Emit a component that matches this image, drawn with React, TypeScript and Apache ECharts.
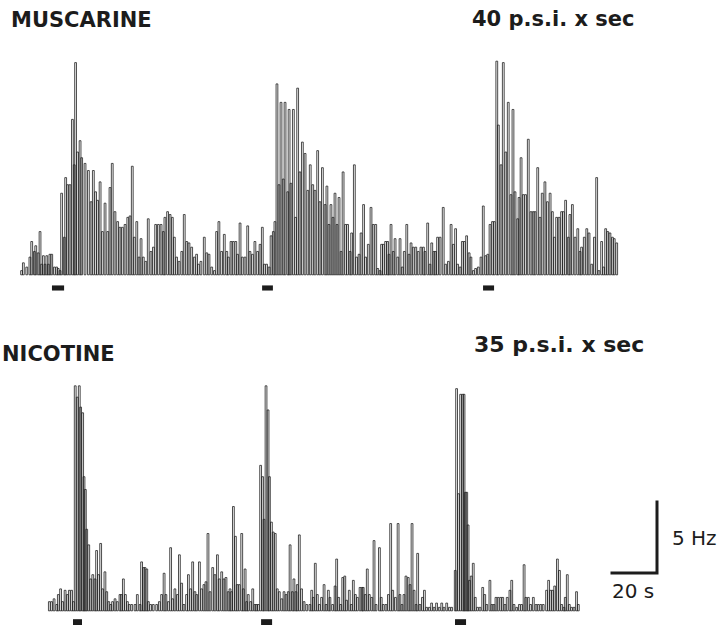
import React, { useEffect, useRef } from "react";
import * as echarts from "echarts";

// Ratemeter spikes: [time (s), instantaneous rate (Hz)]
const muscarineSpikes: [number, number][] = [
  [0.7,0.35],[1.5,0.9],[3.0,0.6],[4.4,1.3],[5.2,2.4],[6.4,1.7],[7.0,2.1],[8.1,1.6],[8.9,3.1],[9.6,0.8],
  [10.4,1.4],[11.1,0.8],[11.9,1.4],[12.6,0.8],[13.3,1.5],[14.1,1.5],[15.3,0.6],[16.3,0.6],[17.0,0.5],[17.8,0.35],
  [18.5,5.8],[19.7,2.7],[20.3,6.9],[21.2,6.4],[22.2,6.4],[23.3,11.0],[24.1,7.8],[24.7,15.0],[25.6,8.7],[26.7,9.5],
  [27.4,8.3],[28.9,7.9],[30.4,7.4],[31.6,5.2],[32.6,7.4],[33.6,5.9],[34.5,5.3],[35.6,6.6],[36.6,3.1],[37.8,5.1],
  [39.0,3.1],[40.0,6.2],[41.0,7.9],[42.2,4.5],[43.4,3.8],[44.4,3.4],[45.5,3.4],[46.7,3.6],[47.9,4.1],[48.9,4.2],
  [49.9,7.7],[50.8,2.7],[51.9,3.8],[52.9,1.3],[53.8,2.6],[54.8,1.3],[55.9,1.0],[57.0,4.0],[58.2,1.7],[59.3,2.0],
  [60.3,3.6],[61.5,3.6],[62.7,3.6],[63.7,3.1],[64.4,4.1],[65.6,4.5],[66.7,4.3],[67.7,4.1],[68.6,2.7],[69.6,1.3],
  [70.7,1.0],[71.9,1.7],[73.0,4.3],[74.1,2.4],[75.1,2.3],[76.3,2.0],[77.5,1.3],[78.5,1.5],[79.3,0.8],[80.4,1.0],
  [81.9,2.7],[83.0,1.6],[84.0,1.5],[85.2,0.6],[86.4,0.35],[87.4,3.1],[88.4,3.8],[89.6,1.7],[90.8,2.9],[91.9,1.7],
  [92.6,1.3],[93.8,2.4],[94.8,2.4],[95.9,2.4],[96.7,1.5],[97.8,3.7],[98.8,1.3],[100.0,1.3],[101.2,3.5],[102.2,1.7],
  [103.3,1.5],[104.4,2.4],[105.6,1.7],[106.7,2.2],[107.7,3.4],[108.6,0.8],[109.6,0.8],[110.7,0.6],[111.6,2.8],[112.6,3.1],
  [113.3,3.8],[114.2,13.5],[115.1,6.4],[116.0,12.2],[117.0,6.8],[117.8,12.2],[119.0,5.9],[119.6,11.7],[120.4,6.5],[121.5,11.7],
  [122.5,4.1],[123.4,13.2],[124.4,7.3],[125.5,9.4],[126.7,8.6],[127.9,6.0],[129.0,7.8],[130.1,6.4],[131.1,6.0],[132.3,8.8],
  [133.3,5.2],[134.4,7.6],[135.6,5.0],[136.4,6.3],[137.3,3.6],[138.2,5.0],[139.1,4.1],[140.0,5.8],[140.9,3.6],[141.8,5.5],
  [142.7,1.7],[143.6,7.3],[144.7,3.6],[145.6,3.6],[146.7,1.7],[147.4,3.0],[148.6,7.8],[149.6,1.3],[150.7,1.5],[151.6,3.0],
  [152.7,5.0],[153.6,1.3],[154.8,2.2],[156.0,4.8],[157.0,3.6],[158.1,3.6],[159.0,0.5],[160.0,0.35],[160.7,2.2],[161.5,2.2],
  [162.5,2.4],[163.4,2.4],[164.0,1.5],[164.9,3.6],[165.9,1.7],[166.7,2.6],[167.9,1.3],[168.9,2.6],[169.9,0.6],[170.8,1.7],
  [171.9,3.6],[172.9,1.5],[173.8,2.3],[174.8,2.0],[175.9,2.0],[177.0,1.7],[178.2,2.0],[179.3,2.0],[180.0,1.7],[181.2,3.7],
  [182.2,0.8],[183.0,2.3],[184.0,1.7],[184.7,1.7],[185.6,2.7],[186.7,2.7],[188.1,4.8],[189.2,0.8],[190.4,1.0],[191.6,3.6],
  [192.6,2.2],[193.6,3.3],[194.5,0.8],[195.6,0.6],[196.6,2.4],[197.5,2.4],[198.5,2.8],[199.6,1.6],[200.4,1.3],[201.5,0.35],
  [202.5,0.5],[203.7,0.6],[204.9,1.3],[205.9,4.9],[207.0,1.4],[207.9,1.5],[208.9,3.6],[210.0,3.8],[210.8,3.8],[211.9,15.1],
  [212.6,10.6],[213.8,7.8],[214.8,15.0],[215.9,8.7],[217.0,12.2],[218.2,5.7],[219.1,11.7],[220.0,5.9],[221.2,4.0],[221.8,5.5],
  [222.7,8.3],[223.7,5.7],[224.7,5.7],[225.9,9.6],[227.1,4.5],[228.1,4.5],[228.9,4.5],[230.1,7.6],[231.1,4.1],[232.1,5.8],
  [233.3,6.6],[234.4,5.2],[235.6,5.8],[236.6,4.5],[237.5,2.7],[238.5,4.1],[239.6,4.1],[240.7,4.5],[241.5,4.5],[242.5,5.3],
  [243.7,2.7],[244.4,4.3],[245.5,5.0],[246.7,2.7],[247.9,3.3],[248.9,1.7],[249.6,2.0],[250.8,2.7],[251.9,3.3],[252.9,3.0],
  [254.1,0.8],[255.3,2.7],[256.3,6.9],[257.3,0.35],[258.5,2.4],[259.4,0.6],[260.3,3.3],[261.2,3.1],[262.2,3.0],[263.3,2.7],
  [264.1,2.6],[265.2,2.3],
];

const nicotineSpikes: [number, number][] = [
  [0.6,0.7],[1.6,0.7],[2.7,0.9],[3.9,0.5],[4.6,1.2],[5.6,1.6],[6.5,0.7],[7.6,1.5],[8.6,1.2],[9.5,1.5],
  [10.5,1.5],[11.3,0.7],[12.1,15.9],[13.0,15.1],[13.9,15.9],[14.5,14.4],[15.4,14.0],[16.0,9.5],[16.6,8.6],[17.2,5.8],
  [18.1,4.7],[19.0,2.3],[19.9,2.6],[20.9,2.3],[21.6,4.3],[22.5,2.6],[23.4,4.8],[24.3,1.6],[25.3,2.8],[26.1,1.4],
  [27.0,0.7],[27.9,0.5],[28.7,0.7],[29.8,0.9],[30.8,0.7],[32.0,1.2],[32.7,1.2],[33.5,2.3],[34.4,1.2],[35.3,0.7],
  [36.1,0.5],[37.2,0.5],[38.7,0.5],[39.7,1.2],[40.9,0.5],[41.6,3.5],[42.4,3.1],[43.1,3.1],[43.9,3.0],[44.6,0.7],
  [45.6,0.5],[46.8,0.5],[48.3,0.5],[49.5,0.7],[50.5,1.2],[51.6,2.7],[52.4,1.2],[53.5,0.7],[54.5,4.5],[55.4,0.9],
  [56.4,1.6],[57.5,1.2],[58.4,4.0],[59.4,2.0],[60.4,0.5],[61.6,1.2],[62.4,2.6],[63.4,1.6],[64.3,3.5],[65.3,1.4],
  [66.1,1.2],[67.3,3.5],[68.3,1.6],[69.3,1.9],[70.2,2.1],[71.1,5.5],[72.0,1.4],[73.2,3.1],[74.2,2.6],[75.3,4.0],
  [76.1,2.3],[77.2,2.8],[78.2,2.3],[79.1,2.4],[80.1,1.4],[80.9,1.6],[81.6,1.4],[82.4,7.4],[83.3,5.3],[84.1,1.9],
  [85.0,1.9],[86.1,5.5],[86.8,1.6],[87.6,3.0],[88.3,0.7],[89.0,1.2],[90.1,0.7],[91.0,1.6],[92.0,0.5],[92.7,0.5],
  [93.5,0.5],[94.5,10.3],[95.4,9.5],[96.0,6.5],[96.9,15.9],[97.8,14.2],[98.4,9.5],[99.3,6.3],[100.1,5.6],[101.0,5.5],
  [101.9,1.6],[102.8,1.4],[103.9,0.9],[104.9,1.4],[105.8,1.2],[106.8,1.4],[107.6,4.7],[108.6,1.4],[109.3,2.3],[110.2,1.4],
  [110.8,1.9],[111.7,5.4],[112.7,1.6],[113.8,0.7],[115.0,0.5],[116.4,0.5],[117.2,1.5],[117.9,1.0],[118.8,3.4],[119.7,1.2],
  [120.6,0.5],[121.6,1.0],[122.7,1.9],[123.6,0.5],[124.6,1.5],[125.3,1.0],[126.5,0.5],[127.6,1.8],[128.3,3.7],[129.2,1.0],
  [130.1,0.5],[131.0,2.4],[131.9,2.5],[132.7,0.8],[133.9,1.5],[134.8,0.5],[135.7,2.2],[136.6,1.2],[137.5,1.0],[138.7,1.7],
  [139.6,1.7],[140.1,1.7],[141.0,1.2],[141.9,3.0],[142.8,1.2],[143.9,1.0],[144.9,5.0],[145.8,0.5],[147.3,4.5],[148.1,1.0],
  [149.0,0.5],[150.2,0.5],[151.3,1.2],[152.3,6.2],[153.2,1.5],[154.4,1.0],[155.6,6.2],[156.4,1.2],[157.3,0.5],[158.2,1.2],
  [159.1,2.5],[160.1,2.4],[160.9,1.9],[161.8,6.2],[162.7,1.5],[163.6,0.5],[164.3,4.1],[165.3,0.5],[166.4,1.0],[167.3,1.5],
  [168.3,0.3],[169.5,0.3],[170.5,0.6],[171.6,0.3],[172.7,0.6],[173.9,0.3],[175.0,0.6],[176.0,0.3],[177.2,0.6],[178.4,0.3],
  [179.4,0.3],[181.0,2.9],[181.6,15.7],[182.5,8.3],[183.4,15.3],[184.3,15.3],[184.9,15.3],[185.5,8.4],[186.1,8.4],[186.7,6.1],
  [187.3,2.2],[188.1,2.5],[189.0,3.4],[189.9,1.0],[190.9,0.3],[192.0,0.3],[193.2,1.7],[194.1,1.2],[195.0,0.5],[196.4,2.2],
  [197.3,0.5],[198.2,0.5],[199.1,1.0],[200.1,1.0],[201.2,1.0],[202.1,1.0],[203.1,0.5],[204.1,1.0],[205.3,1.5],[206.1,2.2],
  [207.1,0.5],[208.3,0.3],[209.5,0.5],[210.5,0.5],[211.6,3.3],[212.4,1.0],[213.5,1.0],[214.5,0.5],[215.7,1.0],[216.9,0.5],
  [217.9,0.5],[219.0,0.5],[220.1,0.5],[221.6,1.5],[222.5,2.2],[223.4,1.5],[224.3,1.5],[225.2,1.8],[226.4,3.7],[227.3,2.9],
  [228.3,0.5],[229.3,0.3],[229.9,1.0],[230.8,2.6],[231.7,0.5],[232.7,0.3],[233.8,0.3],[234.9,1.4],[235.7,0.5],
];

// Drug application periods [start s, end s]
const muscarineStim: [number, number][] = [[14.2, 19.6], [107.6, 112.4], [205.8, 210.7]];
const nicotineStim: [number, number][] = [[11.1, 15.1], [94.7, 99.6], [180.9, 185.8]];

// Calibration bar
const scaleTime = 20; // s
const scaleRate = 5; // Hz

const labels = {
  muscarine: "MUSCARINE",
  muscarineDose: "40 p.s.i. x sec",
  nicotine: "NICOTINE",
  nicotineDose: "35 p.s.i. x sec",
  rateUnit: `${scaleRate} Hz`,
  timeUnit: `${scaleTime} s`,
};

export default function App() {
  const ref = useRef<HTMLDivElement>(null);
  useEffect(() => {
    const chart = echarts.init(ref.current!, null, { renderer: "svg" });
    const font = '"DejaVu Sans", "Liberation Sans", Arial, sans-serif';
    const ink = "#1c1c1c";
    const spikeStyle = {
      color: "rgba(30,30,30,0.07)",
      borderColor: "#222222",
      borderWidth: 0.8,
    };
    const stimArea = (stim: [number, number][], y0: number, y1: number) => ({
      silent: true,
      itemStyle: { color: ink },
      data: stim.map(([a, b]) => [{ coord: [a, y0] }, { coord: [b, y1] }]),
    });
    const option: any = {
      animation: false,
      backgroundColor: "#ffffff",
      grid: [
        { left: 20, top: 48, width: 598.5, height: 248.5 },
        { left: 48, top: 384, width: 531, height: 241 },
        { left: 612, top: 502, width: 45, height: 71 },
      ],
      xAxis: [
        { gridIndex: 0, type: "value", min: 0, max: 266, show: false },
        { gridIndex: 1, type: "value", min: 0, max: 236, show: false },
        { gridIndex: 2, type: "value", min: -scaleTime, max: 0, show: false },
      ],
      yAxis: [
        { gridIndex: 0, type: "value", min: -1.5, max: 16, show: false },
        { gridIndex: 1, type: "value", min: -0.97, max: 16, show: false },
        { gridIndex: 2, type: "value", min: 0, max: scaleRate, show: false },
      ],
      series: [
        {
          type: "bar",
          xAxisIndex: 0,
          yAxisIndex: 0,
          data: muscarineSpikes,
          barWidth: 2.6,
          clip: false,
          itemStyle: spikeStyle,
          markArea: stimArea(muscarineStim, -0.72, -1.08),
        },
        {
          type: "bar",
          xAxisIndex: 1,
          yAxisIndex: 1,
          data: nicotineSpikes,
          barWidth: 2.6,
          clip: false,
          itemStyle: spikeStyle,
          markArea: stimArea(nicotineStim, -0.56, -0.97),
        },
        {
          type: "line",
          xAxisIndex: 2,
          yAxisIndex: 2,
          data: [[-scaleTime, 0], [0, 0], [0, scaleRate]],
          symbol: "none",
          clip: false,
          lineStyle: { color: ink, width: 3, cap: "square", join: "miter" },
        },
      ],
      graphic: [
        { type: "text", left: 11, top: 9, style: { text: labels.muscarine, font: `bold 21px ${font}`, fill: ink } },
        { type: "text", left: 472, top: 8, style: { text: labels.muscarineDose, font: `bold 21px ${font}`, fill: ink } },
        { type: "text", left: 2, top: 343, style: { text: labels.nicotine, font: `bold 21px ${font}`, fill: ink } },
        { type: "text", left: 474, top: 333, style: { text: labels.nicotineDose, font: `bold 22px ${font}`, fill: ink } },
        { type: "text", left: 672, top: 528, style: { text: labels.rateUnit, font: `20px ${font}`, fill: ink } },
        { type: "text", left: 612, top: 581, style: { text: labels.timeUnit, font: `20px ${font}`, fill: ink } },
      ],
    };
    chart.setOption(option);
    return () => chart.dispose();
  }, []);
  return (
    <div
      ref={ref}
      style={{ position: "fixed", left: 0, top: 0, width: 724, height: 625, background: "#fff" }}
    />
  );
}
